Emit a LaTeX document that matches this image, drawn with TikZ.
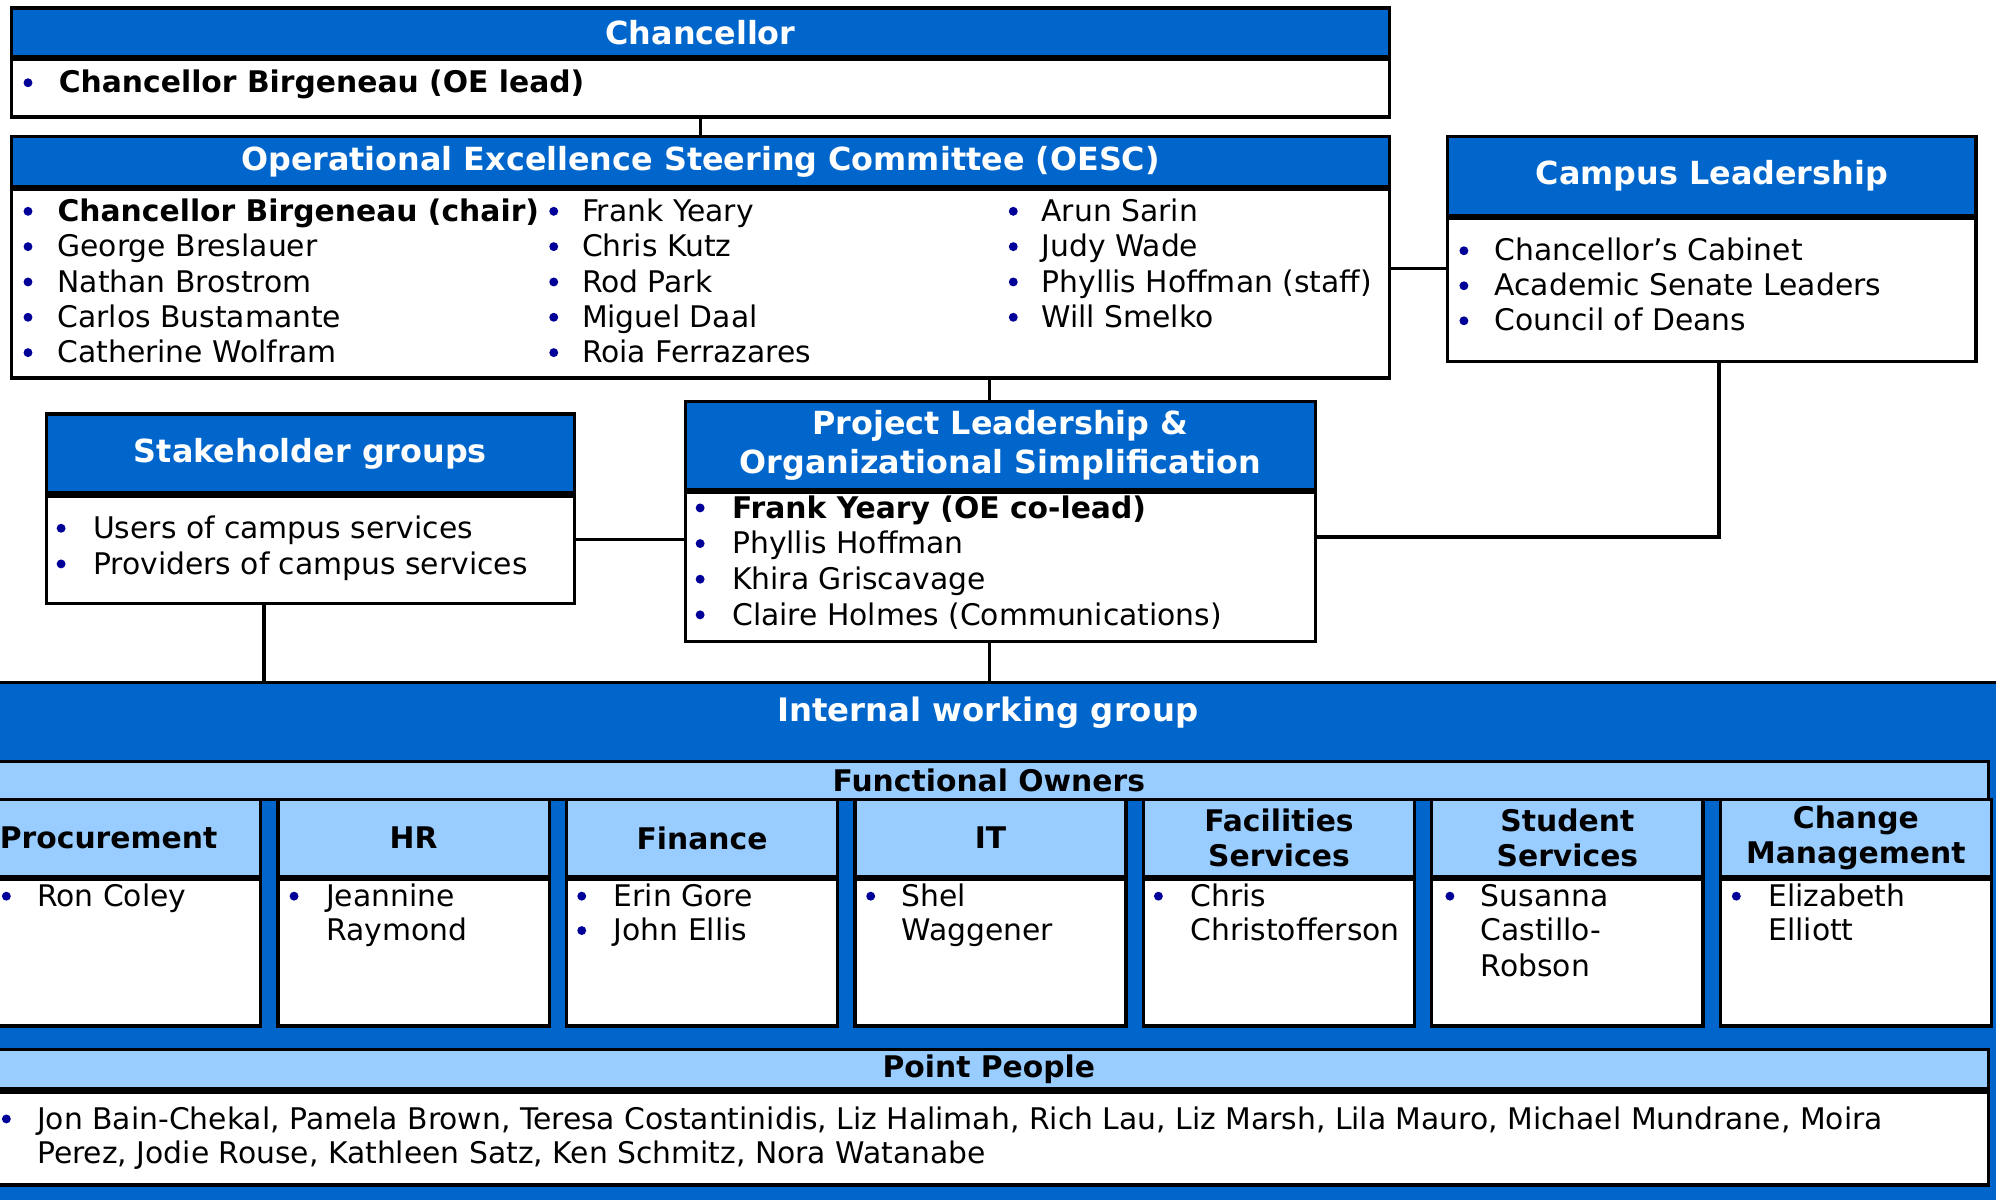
\documentclass[tikz,border=0pt]{standalone}
\usepackage{fontspec}
\setmainfont{DejaVu Sans}
\definecolor{hblue}{HTML}{0066CC}
\definecolor{lblue}{HTML}{99CCFF}
\definecolor{bul}{HTML}{000099}
\tikzset{
  box/.style={draw=black, line width=2.6pt, anchor=north west, inner sep=0pt},
  title/.style={box, fill=hblue, text=white, align=center, font=\bfseries\fontsize{25}{31}\selectfont},
  body/.style={box, fill=white},
  lhead/.style={box, fill=lblue, align=center, font=\bfseries\fontsize{23.4}{27}\selectfont},
  item/.style={anchor=base west, inner sep=0pt, font=\fontsize{23.4}{27.5}\selectfont},
  link/.style={draw=black, line width=2.6pt},
}
\begin{document}
\begin{tikzpicture}[x=1pt, y=-1pt]
\useasboundingbox (0,0) rectangle (1568,942);

% Chancellor
\node[title, minimum width=1082, minimum height=38] (chanT) at (8,5) {Chancellor};
\node[body, minimum width=1082, minimum height=45] (chanB) at (chanT.south west) {};
\fill[bul] (22,65) circle (3.5);
\node[item] (chan1) at (46,73) {\textbf{Chancellor Birgeneau (OE lead)}};

% steering committee
\node[title, minimum width=1082, minimum height=39] (oescT) at (8,106) {Operational Excellence Steering Committee (OESC)};
\node[body, minimum width=1082, minimum height=148] (oescB) at (oescT.south west) {};
\foreach \t [count=\i from 0] in {\textbf{Chancellor Birgeneau (chair)}, George Breslauer, Nathan Brostrom, Carlos Bustamante, Catherine Wolfram} {
  \fill[bul] (22,{166+27.75*\i}) circle (3.5);
  \node[item] (oa\i) at (45,{174+27.75*\i}) {\t};
}
\foreach \t [count=\i from 0] in {Frank Yeary, Chris Kutz, Rod Park, Miguel Daal, Roia Ferrazares} {
  \fill[bul] (435,{166+27.75*\i}) circle (3.5);
  \node[item] (ob\i) at (457,{174+27.75*\i}) {\t};
}
\foreach \t [count=\i from 0] in {Arun Sarin, Judy Wade, Phyllis Hoffman (staff), Will Smelko} {
  \fill[bul] (796,{166+27.75*\i}) circle (3.5);
  \node[item] (oc\i) at (818,{174+27.75*\i}) {\t};
}

% campus leadership
\node[title, minimum width=415, minimum height=62] (campT) at (1136,106) {Campus Leadership};
\node[body, minimum width=415, minimum height=112] (campB) at (campT.south west) {};
\foreach \t [count=\i from 0] in {Chancellor’s Cabinet, Academic Senate Leaders, Council of Deans} {
  \fill[bul] (1150,{197+27.5*\i}) circle (3.5);
  \node[item] (ca\i) at (1174,{205+27.5*\i}) {\t};
}

% stakeholders
\node[title, minimum width=415, minimum height=62] (stakeT) at (35,324) {Stakeholder groups};
\node[body, minimum width=415, minimum height=84] (stakeB) at (stakeT.south west) {};
\foreach \t [count=\i from 0] in {Users of campus services, Providers of campus services} {
  \fill[bul] (48,{415+28*\i}) circle (3.5);
  \node[item] (sa\i) at (73,{423+28*\i}) {\t};
}

% project leadership
\node[title, minimum width=495, minimum height=69] (projT) at (537,314) {Project Leadership \&\\Organizational Simplification};
\node[body, minimum width=495, minimum height=117] (projB) at (projT.south west) {};
\foreach \t [count=\i from 0] in {\textbf{Frank Yeary (OE co-lead)}, Phyllis Hoffman, Khira Griscavage, Claire Holmes (Communications)} {
  \fill[bul] (550,{399+28*\i}) circle (3.5);
  \node[item] (pa\i) at (575,{407+28*\i}) {\t};
}

% internal working group
\node[box, fill=hblue, minimum width=1590, minimum height=420] (iwg) at (-10,535) {};
\node[text=white, font=\bfseries\fontsize{25.4}{30}\selectfont] (iwgT) at (776,560) {Internal working group};
\node[lhead, minimum width=1571, minimum height=30] (fown) at (-10,597) {Functional Owners};
\foreach \nm/\hd [count=\i from 0] in {proc/{\hspace*{-26pt}Procurement}, hr/HR, fin/Finance, it/IT, fac/{Facilities\\Services}, stu/{Student\\Services}, chg/{Change\\Management}} {
  \node[lhead, minimum width=213, minimum height=60, text width=213] (\nm-h) at ({-9.5+226.6*\i},627) {\hd};
  \node[body, minimum width=213, minimum height=115] (\nm-b) at (\nm-h.south west) {};
}
\fill[bul] (5,704) circle (3.5);
\node[item] (proc1) at (29,712) {Ron Coley};
\fill[bul] (231,704) circle (3.5);
\node[item] (hr1) at (256,712) {Jeannine};
\node[item] (hr2) at (256,739) {Raymond};
\fill[bul] (457,704) circle (3.5);
\fill[bul] (457,731) circle (3.5);
\node[item] (fin1) at (482,712) {Erin Gore};
\node[item] (fin2) at (482,739) {John Ellis};
\fill[bul] (684,704) circle (3.5);
\node[item] (it1) at (708,712) {Shel};
\node[item] (it2) at (708,739) {Waggener};
\fill[bul] (910,704) circle (3.5);
\node[item] (fac1) at (935,712) {Chris};
\node[item] (fac2) at (935,739) {Christofferson};
\fill[bul] (1139,704) circle (3.5);
\node[item] (stu1) at (1163,712) {Susanna};
\node[item] (stu2) at (1163,739) {Castillo-};
\node[item] (stu3) at (1163,767) {Robson};
\fill[bul] (1364,704) circle (3.5);
\node[item] (chg1) at (1389,712) {Elizabeth};
\node[item] (chg2) at (1389,739) {Elliott};

\node[lhead, minimum width=1571, minimum height=31] (ppl) at (-10,823) {Point People};
\node[body, minimum width=1571, minimum height=73] (pplB) at (ppl.south west) {};
\fill[bul] (5,879) circle (3.5);
\node[item] (ppl1) at (29,887) {Jon Bain-Chekal, Pamela Brown, Teresa Costantinidis, Liz Halimah, Rich Lau, Liz Marsh, Lila Mauro, Michael Mundrane, Moira};
\node[item] (ppl2) at (29,914) {Perez, Jodie Rouse, Kathleen Satz, Ken Schmitz, Nora Watanabe};

% connectors
\draw[link] (chanB.south) -- (oescT.north);
\draw[link] ([yshift=12pt]oescB.east) -- ([yshift=12pt]oescB.east -| campB.west);
\draw[link] ([xshift=-8.5pt]projT.north) -- ([xshift=-8.5pt]projT.north |- oescB.south);
\draw[link] ([xshift=5.5pt]campB.south) |- ([yshift=23.5pt]projB.east);
\draw[link] ([yshift=8pt]stakeB.east) -- ([yshift=8pt]stakeB.east -| projB.west);
\draw[link] ([xshift=-36.5pt]stakeB.south) -- ([xshift=-36.5pt]stakeB.south |- iwg.north);
\draw[link] ([xshift=-8.5pt]projB.south) -- ([xshift=-8.5pt]projB.south |- iwg.north);
\end{tikzpicture}
\end{document}
